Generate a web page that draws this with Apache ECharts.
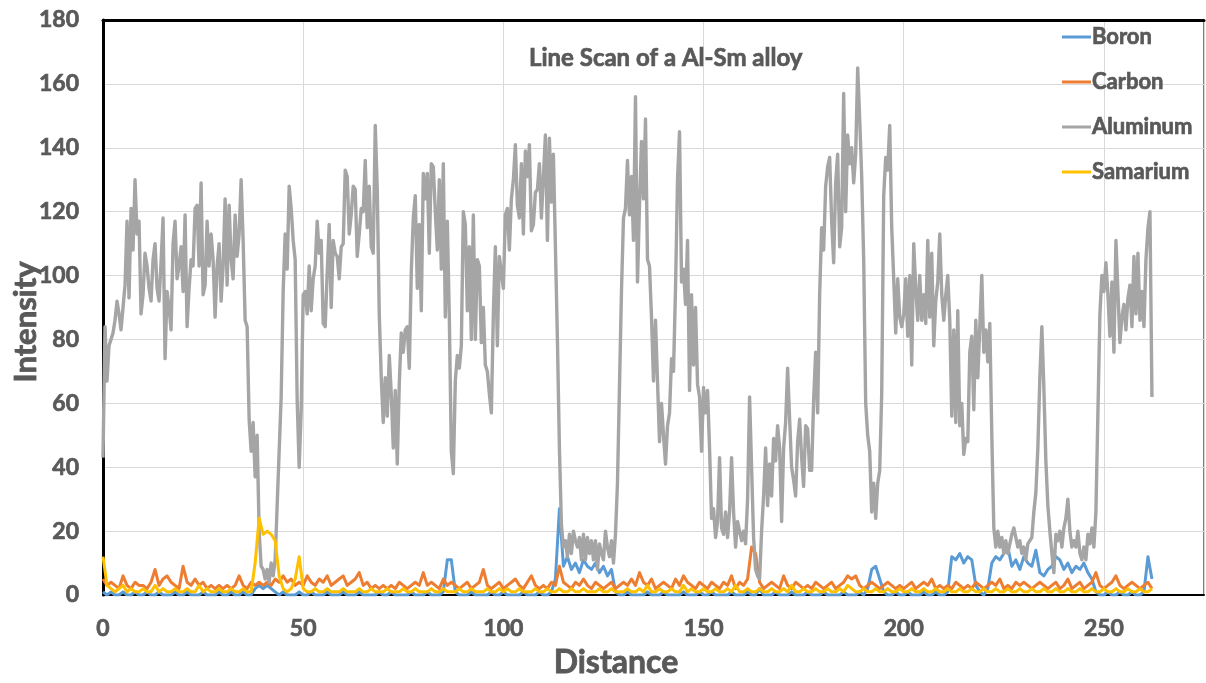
<!DOCTYPE html>
<html>
<head>
<meta charset="utf-8">
<title>Line Scan of a Al-Sm alloy</title>
<script src="https://cdn.jsdelivr.net/npm/echarts@6/dist/echarts.min.js"></script>
<style>
  html, body { margin: 0; padding: 0; background: #fff; }
  #chart { width: 1206px; height: 683px; }
</style>
</head>
<body>
<div id="chart"></div>
<script>
// Line scan intensities along the distance axis.
// Aluminum is sampled every 0.5 units, the minor elements every 1 unit.
const seriesNames = ['Boron', 'Carbon', 'Aluminum', 'Samarium'];
const xTicks = [0, 50, 100, 150, 200, 250];
const yTicks = [0, 20, 40, 60, 80, 100, 120, 140, 160, 180];
const aluminumStep = 0.5;
const minorStep = 1;

const aluminum = [
  43, 84, 67, 78, 80, 82, 86, 92, 88, 83,
  90, 97, 117, 93, 121, 108, 130, 113, 117, 88,
  94, 107, 103, 96, 92, 105, 110, 96, 92, 104,
  118, 74, 95, 90, 83, 110, 117, 99, 103, 109,
  95, 119, 84, 96, 105, 103, 121, 122, 103, 129,
  94, 97, 117, 103, 113, 105, 87, 103, 110, 92,
  103, 124, 97, 122, 105, 99, 119, 106, 113, 130,
  111, 86, 84, 55, 45, 54, 37, 50, 20, 9,
  8, 5, 8, 4, 10, 6, 11, 28, 45, 62,
  95, 113, 102, 128, 121, 111, 105, 61, 40, 58,
  94, 95, 88, 103, 89, 99, 103, 117, 107, 111,
  85, 84, 101, 116, 90, 111, 107, 106, 99, 109,
  110, 133, 131, 113, 119, 128, 127, 106, 113, 121,
  120, 136, 115, 128, 109, 107, 147, 127, 88, 68,
  54, 68, 56, 75, 63, 46, 64, 41, 66, 82,
  76, 83, 84, 71, 101, 118, 125, 96, 116, 89,
  132, 124, 132, 107, 135, 134, 120, 108, 130, 102,
  135, 87, 117, 87, 45, 38, 67, 75, 71, 78,
  120, 116, 89, 109, 80, 119, 80, 105, 103, 79,
  90, 72, 70, 63, 57, 88, 109, 78, 106, 101,
  96, 119, 121, 108, 124, 130, 141, 122, 118, 135,
  113, 139, 131, 141, 114, 116, 126, 127, 135, 118,
  131, 144, 111, 143, 123, 138, 109, 80, 46, 22,
  15, 17, 12, 19, 13, 20, 17, 15, 18, 11,
  19, 11, 18, 13, 17, 11, 17, 8, 16, 13,
  11, 20, 15, 12, 17, 10, 19, 35, 65, 95,
  118, 121, 136, 119, 131, 111, 156, 98, 122, 142,
  124, 149, 105, 103, 87, 67, 86, 67, 48, 60,
  50, 41, 53, 57, 74, 70, 96, 130, 145, 98,
  102, 91, 111, 64, 94, 72, 90, 66, 62, 45,
  65, 57, 64, 46, 24, 27, 18, 23, 43, 21,
  19, 26, 18, 26, 43, 26, 15, 23, 20, 17,
  20, 16, 30, 62, 40, 18, 8, 6, 5, 20,
  31, 46, 28, 41, 31, 49, 42, 53, 46, 23,
  46, 54, 71, 55, 40, 36, 31, 48, 55, 43,
  34, 53, 52, 39, 39, 61, 76, 57, 94, 115,
  108, 128, 134, 137, 117, 104, 129, 138, 109, 115,
  157, 120, 144, 135, 140, 129, 138, 165, 149, 131,
  105, 60, 50, 45, 26, 35, 24, 35, 39, 63,
  125, 137, 133, 147, 115, 99, 82, 99, 87, 84,
  88, 99, 81, 100, 72, 110, 96, 86, 100, 86,
  94, 85, 111, 87, 107, 78, 92, 98, 113, 94,
  86, 94, 100, 86, 56, 83, 54, 89, 53, 60,
  44, 49, 48, 76, 81, 58, 86, 68, 84, 100,
  76, 83, 73, 85, 50, 21, 15, 20, 15, 18,
  13, 17, 13, 16, 19, 21, 18, 15, 17, 13,
  15, 11, 16, 17, 18, 26, 32, 46, 68, 84,
  65, 42, 28, 20, 13, 7, 19, 17, 20, 15,
  21, 24, 30, 20, 15, 17, 15, 20, 13, 11,
  15, 11, 19, 16, 21, 15, 26, 57, 88, 100,
  95, 104, 94, 81, 98, 76, 111, 95, 79, 87,
  91, 83, 93, 97, 84, 106, 88, 107, 86, 95,
  84, 105, 115, 120, 62
];

const carbon = [
  5, 3, 4, 3, 2, 6, 3, 2, 4, 3,
  3, 2, 4, 8, 3, 5, 6, 4, 3, 2,
  9, 4, 3, 5, 3, 4, 2, 3, 2, 3,
  2, 3, 2, 3, 6, 3, 2, 4, 3, 4,
  3, 4, 3, 5, 4, 6, 4, 5, 3, 4,
  3, 6, 4, 3, 5, 4, 6, 3, 4, 5,
  6, 3, 4, 5, 7, 3, 4, 2, 3, 2,
  3, 2, 3, 2, 4, 3, 2, 3, 4, 3,
  7, 3, 4, 3, 2, 5, 3, 4, 3, 2,
  3, 4, 2, 3, 4, 8, 3, 2, 3, 4,
  2, 3, 4, 5, 3, 2, 4, 6, 3, 2,
  3, 2, 4, 3, 9, 4, 3, 2, 4, 3,
  5, 3, 2, 4, 3, 2, 3, 4, 2, 3,
  4, 3, 5, 3, 7, 4, 3, 5, 2, 3,
  4, 3, 2, 5, 3, 6, 4, 3, 2, 4,
  3, 2, 4, 3, 2, 4, 3, 6, 2, 4,
  3, 5, 15, 13, 4, 2, 3, 4, 3, 2,
  6, 3, 2, 4, 3, 2, 3, 2, 4, 3,
  2, 3, 4, 2, 3, 4, 6, 5, 6, 3,
  2, 3, 4, 3, 2, 3, 4, 3, 2, 3,
  2, 3, 4, 2, 3, 4, 3, 5, 2, 3,
  2, 3, 2, 4, 3, 2, 3, 2, 4, 3,
  2, 3, 4, 3, 5, 2, 3, 2, 4, 3,
  4, 3, 2, 3, 4, 3, 2, 3, 4, 2,
  3, 5, 2, 3, 4, 2, 3, 4, 7, 3,
  2, 3, 4, 6, 3, 2, 3, 4, 3, 2,
  3, 4, 2
];

const boron = [
  1, 0, 1, 0, 0, 1, 0, 0, 1, 0,
  0, 1, 0, 0, 1, 0, 0, 0, 1, 0,
  0, 1, 0, 0, 0, 1, 0, 0, 0, 1,
  0, 0, 1, 0, 0, 1, 0, 0, 2, 3,
  2, 3, 2, 1, 0, 1, 0, 0, 0, 1,
  0, 0, 1, 0, 0, 0, 1, 0, 0, 0,
  1, 0, 0, 0, 1, 0, 0, 0, 0, 1,
  0, 0, 1, 0, 0, 0, 0, 1, 0, 0,
  0, 1, 0, 0, 0, 1, 11, 11, 1, 0,
  0, 0, 1, 0, 0, 0, 0, 1, 0, 0,
  1, 0, 0, 0, 0, 1, 0, 0, 0, 1,
  0, 0, 1, 5, 27, 9, 12, 8, 10, 7,
  11, 9, 8, 10, 7, 9, 6, 8, 1, 0,
  0, 1, 0, 0, 0, 0, 1, 0, 0, 0,
  1, 0, 0, 0, 0, 1, 0, 0, 0, 1,
  0, 0, 1, 0, 0, 0, 0, 1, 0, 0,
  0, 1, 0, 0, 2, 0, 0, 0, 1, 0,
  0, 0, 1, 0, 0, 0, 1, 0, 0, 0,
  1, 0, 0, 0, 0, 1, 0, 0, 0, 1,
  0, 2, 8, 9, 5, 1, 0, 0, 1, 0,
  0, 1, 0, 0, 0, 1, 0, 0, 1, 0,
  0, 1, 12, 11, 13, 10, 12, 11, 3, 1,
  0, 2, 10, 12, 11, 13, 15, 9, 11, 8,
  12, 10, 9, 14, 7, 6, 8, 9, 12, 11,
  8, 10, 7, 9, 8, 10, 7, 5, 1, 0,
  0, 1, 0, 0, 1, 0, 0, 1, 0, 0,
  1, 12, 5
];

const samarium = [
  12, 3, 2, 1, 2, 3, 1, 2, 1, 1,
  2, 1, 1, 3, 1, 2, 1, 1, 2, 1,
  1, 2, 1, 1, 3, 1, 2, 1, 1, 2,
  1, 1, 2, 1, 1, 2, 1, 1, 10, 24,
  19, 20, 19, 17, 6, 2, 1, 2, 5, 12,
  2, 1, 1, 2, 1, 1, 2, 1, 1, 1,
  2, 1, 1, 1, 2, 1, 1, 2, 1, 1,
  1, 2, 1, 1, 1, 2, 1, 1, 2, 1,
  1, 1, 2, 1, 1, 2, 1, 1, 1, 2,
  1, 1, 2, 1, 1, 1, 2, 1, 1, 2,
  1, 2, 1, 1, 2, 1, 1, 1, 2, 1,
  1, 2, 1, 1, 2, 1, 1, 2, 1, 1,
  2, 1, 1, 1, 2, 1, 1, 2, 1, 1,
  1, 2, 1, 1, 2, 1, 3, 1, 1, 2,
  1, 1, 2, 1, 1, 3, 1, 2, 1, 1,
  2, 1, 1, 2, 1, 1, 2, 1, 3, 1,
  1, 2, 1, 1, 2, 1, 1, 2, 1, 1,
  2, 1, 3, 1, 1, 2, 1, 1, 2, 1,
  1, 2, 1, 1, 2, 1, 3, 2, 1, 1,
  2, 1, 1, 2, 1, 1, 2, 1, 1, 2,
  1, 1, 2, 1, 1, 2, 1, 1, 2, 1,
  1, 2, 1, 1, 2, 1, 1, 2, 1, 1,
  2, 1, 1, 2, 1, 1, 2, 1, 1, 2,
  1, 1, 2, 1, 1, 2, 1, 1, 2, 1,
  1, 2, 1, 1, 2, 1, 1, 2, 1, 1,
  2, 1, 1, 2, 1, 1, 2, 1, 1, 2,
  1, 1, 2
];

const colors = {
  Boron: '#5B9BD5',
  Carbon: '#ED7D31',
  Aluminum: '#A5A5A5',
  Samarium: '#FFC000'
};

const FONT = 'Lato, "Liberation Sans", sans-serif';
const TEXT = '#595959';

function toPairs(values, step) {
  return values.map((v, i) => [i * step, v]);
}

const valuesByName = {
  Boron: toPairs(boron, minorStep),
  Carbon: toPairs(carbon, minorStep),
  Aluminum: toPairs(aluminum, aluminumStep),
  Samarium: toPairs(samarium, minorStep)
};

const chart = echarts.init(document.getElementById('chart'), null, { renderer: 'canvas' });

const xMin = xTicks[0];
const xMax = 275;
const yMin = yTicks[0];
const yMax = yTicks[yTicks.length - 1];

// heavier text, close to the bold face used for the labels
const boldText = (size) => ({
  fontFamily: FONT,
  fontWeight: 'bold',
  fontSize: size,
  color: TEXT,
  textBorderColor: TEXT,
  textBorderWidth: 0.7
});

chart.setOption({
  animation: false,
  backgroundColor: '#ffffff',
  title: {
    text: 'Line Scan of a Al-Sm alloy',
    left: 524,
    top: 41,
    textStyle: boldText(24)
  },
  legend: {
    data: seriesNames,
    orient: 'vertical',
    left: 1057,
    top: 20,
    icon: 'rect',
    itemWidth: 29,
    itemHeight: 3,
    itemGap: 21,
    textStyle: Object.assign(boldText(22), { lineHeight: 24, padding: [0, 0, 0, -4] })
  },
  grid: {
    left: 103,
    right: 2,
    top: 20,
    bottom: 88,
    show: true,
    borderColor: '#000',
    borderWidth: 1
  },
  xAxis: [
    {
      type: 'value',
      min: xMin,
      max: xMax,
      interval: xTicks[1] - xTicks[0],
      axisLine: { show: true, lineStyle: { color: '#000', width: 2 } },
      axisTick: { show: false },
      axisLabel: Object.assign(boldText(23), { showMaxLabel: false, margin: 22 }),
      splitLine: { show: true, lineStyle: { color: '#D9D9D9', width: 1 } }
    },
    {
      type: 'value',
      position: 'top',
      min: xMin,
      max: xMax,
      axisLine: { show: true, lineStyle: { color: '#000', width: 3 } },
      axisTick: { show: false },
      axisLabel: { show: false },
      splitLine: { show: false }
    }
  ],
  yAxis: {
    type: 'value',
    min: yMin,
    max: yMax,
    interval: yTicks[1] - yTicks[0],
    axisLine: { show: true, lineStyle: { color: '#000', width: 3 } },
    axisTick: { show: false },
    axisLabel: Object.assign(boldText(23), { margin: 24 }),
    splitLine: { show: true, lineStyle: { color: '#D9D9D9', width: 1 } }
  },
  graphic: [
    {
      type: 'text',
      x: 26,
      y: 322,
      rotation: Math.PI / 2,
      style: {
        text: 'Intensity',
        fontFamily: FONT,
        fontWeight: 'bold',
        fontSize: 31,
        fill: TEXT,
        stroke: TEXT,
        lineWidth: 0.8,
        align: 'center',
        verticalAlign: 'middle'
      }
    },
    {
      type: 'text',
      x: 616,
      y: 663,
      style: {
        text: 'Distance',
        fontFamily: FONT,
        fontWeight: 'bold',
        fontSize: 32,
        fill: TEXT,
        stroke: TEXT,
        lineWidth: 0.8,
        align: 'center',
        verticalAlign: 'middle'
      }
    }
  ],
  series: seriesNames.map(name => ({
    name: name,
    type: 'line',
    xAxisIndex: 0,
    data: valuesByName[name],
    showSymbol: false,
    symbol: 'none',
    sampling: null,
    color: colors[name],
    lineStyle: { color: colors[name], width: name === 'Aluminum' ? 3.4 : 3, join: 'round' }
  }))
});
</script>
</body>
</html>
